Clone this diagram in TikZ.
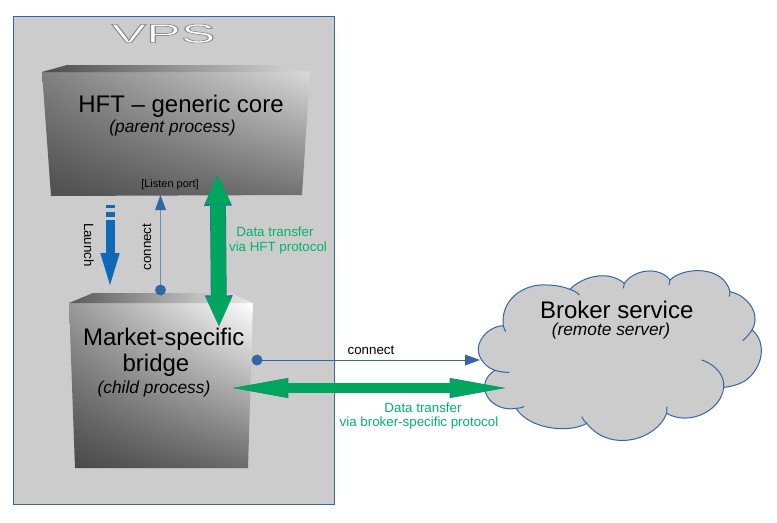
\documentclass[tikz,border=0pt]{standalone}
\usepackage{fontspec}
\setmainfont{Liberation Sans}
\usetikzlibrary{arrows.meta,shadings}
\definecolor{linkblue}{HTML}{3465A4}
\definecolor{launchblue}{HTML}{0F69B8}
\definecolor{dgreen}{HTML}{00A65D}
\definecolor{tgreen}{HTML}{00B46E}
\definecolor{panel}{HTML}{CCCCCC}
\newcommand{\fs}[1]{\fontsize{#1}{#1}\selectfont}
\tikzset{
  x=0.75pt,y=-0.75pt,
  txt/.style={inner sep=0pt,outer sep=0pt,text=black,align=center},
  title/.style={txt,font=\fs{18}},
  note/.style={txt,font=\fs{13}\itshape},
  small/.style={txt,font=\fs{10}},
  glabel/.style={small,text=tgreen},
  thin link/.style={draw=linkblue,line width=0.75pt,-{Triangle[length=11.25pt,width=8.25pt,line width=0pt,fill=linkblue]}},
  pdot/.style={circle,fill=linkblue,minimum size=8.2pt,inner sep=0pt,outer sep=0pt},
  launch/.style={draw=launchblue,line width=6.75pt,-{Triangle[length=24pt,width=14.6pt,line width=0pt,fill=launchblue]}},
  vbig under/.style={draw=linkblue,line width=11.9pt,{Triangle[length=23pt,width=21pt,line width=0pt,fill=linkblue]}-{Triangle[length=23pt,width=21pt,line width=0pt,fill=linkblue]}},
  vbig/.style={draw=dgreen,line width=11pt,{Triangle[length=22pt,width=20pt,line width=0pt,fill=dgreen]}-{Triangle[length=22pt,width=20pt,line width=0pt,fill=dgreen]}},
  hbig under/.style={draw=linkblue!70!dgreen,line width=8.1pt,{Triangle[length=41.5pt,width=15.1pt,line width=0pt,fill=linkblue!70!dgreen]}-{Triangle[length=41.5pt,width=15.1pt,line width=0pt,fill=linkblue!70!dgreen]}},
  hbig/.style={draw=dgreen,line width=7.5pt,{Triangle[length=40.5pt,width=14.3pt,line width=0pt,fill=dgreen]}-{Triangle[length=40.5pt,width=14.3pt,line width=0pt,fill=dgreen]}},
  cloudline/.style={draw=linkblue,line width=0.75pt},
}
\begin{document}
\begin{tikzpicture}
\useasboundingbox (0,0) rectangle (777,522);
\fill[white] (0,0) rectangle (777,522);
% VPS panel
\draw[fill=panel,draw=linkblue,line width=0.75pt] (13.5,16.5) rectangle (334.5,504);
\node[txt,font=\fs{19}] (vps) at (163.5,33.5) {\special{pdf:code q 0.55 G 1 g 0.45 w 2 Tr}\scalebox{2.05}[1.05]{VPS}\special{pdf:code Q}};
% HFT box
\shade[upper left=black!50,upper right=black!15,lower left=black!70,lower right=black!55]
  (42,72) -- (310,72) -- (302,195) -- (51,196) -- cycle;
\shade[left color=black!70,right color=black!15]
  (42,72) -- (67,65) -- (270,65) -- (310,72) -- cycle;
% Market box
\shade[upper left=black!40,upper right=white,lower left=black!72,lower right=black!58]
  (69,303) -- (253,303) -- (248,468) -- (75,468) -- cycle;
\shade[left color=black!65,right color=black!8]
  (69,303) -- (93,293) -- (230,293) -- (253,303) -- cycle;
% Cloud
\begin{scope}[shift={(440,250)},x=0.25pt,y=-0.25pt]
\path[fill=panel,cloudline]
  (190,228)
  .. controls (180,150) and (250,100) .. (320,105)
  .. controls (350,105) and (375,112) .. (390,118)
  .. controls (420,85) and (500,55) .. (553,100)
  .. controls (585,55) and (660,50) .. (690,90)
  .. controls (730,50) and (850,45) .. (870,125)
  .. controls (920,135) and (965,190) .. (936,240)
  .. controls (975,270) and (975,340) .. (925,385)
  .. controls (905,402) and (875,410) .. (851,412)
  .. controls (845,480) and (750,530) .. (680,490)
  .. controls (650,570) and (510,610) .. (440,520)
  .. controls (390,550) and (270,540) .. (228,475)
  .. controls (170,485) and (125,440) .. (135,400)
  .. controls (137,385) and (150,370) .. (165,361)
  .. controls (130,350) and (105,310) .. (118,280)
  .. controls (130,245) and (170,225) .. (190,228)
  -- cycle;
\draw[cloudline] (390,118) .. controls (402,122) and (412,128) .. (418,135);
\draw[cloudline] (553,100) -- (550,115);
\draw[cloudline] (690,90) -- (687,105);
\draw[cloudline] (870,125) -- (868,140);
\draw[cloudline] (936,240) .. controls (928,252) and (918,264) .. (908,272);
\draw[cloudline] (785,330) .. controls (830,345) and (855,380) .. (851,412);
\draw[cloudline] (680,490) -- (681,470);
\draw[cloudline] (440,520) .. controls (434,514) and (428,508) .. (425,500);
\draw[cloudline] (228,475) .. controls (238,475) and (245,473) .. (252,470);
\draw[cloudline] (165,361) .. controls (180,366) and (195,367) .. (207,367);
\draw[cloudline] (190,228) .. controls (191,233) and (195,240) .. (197,245);
\end{scope}
% connection end points
\coordinate (launchA) at (110,220);
\coordinate (launchB) at (110,285);
\coordinate (dashA) at (110,205);
\coordinate (dashB) at (110,218);
\coordinate (tipTop) at (217.7,175);
\coordinate (tipBot) at (219,326);
\coordinate (tipL) at (233,388);
\coordinate (tipR) at (505,388);
\coordinate (port) at (160.5,195);
\coordinate (cloudin) at (480,360);
\node[pdot] (dotA) at (160.5,290) {};
\node[pdot] (dotB) at (257,360) {};
% launch arrow
\draw[launch] (launchA) -- (launchB);
\draw[draw=launchblue,line width=6.75pt,dash pattern=on 2.6pt off 2.6pt on 3.8pt off 3pt] (dashA) -- (dashB);
% connect arrows
\draw[thin link,draw=linkblue!75!white] (dotA) -- (port);
\draw[thin link] (dotB) -- (cloudin);
% green double arrows
\draw[vbig under] (tipTop) -- (tipBot);
\draw[vbig] (tipTop) -- (tipBot);
\draw[hbig under] (tipL) -- (tipR);
\draw[hbig] (tipL) -- (tipR);
% text
\node[title] (hft) at (181,106) {HFT – generic core};
\node[note] (hftn) at (172.5,128) {(parent process)};
\node[txt,font=\fs{8.25}] (listen) at (170,185) {[Listen port]};
\node[title] (mkt) at (163.7,339) {Market-specific};
\node[title] (brg) at (156,365) {bridge};
\node[note] (mktn) at (154,389) {(child process)};
\node[title] (brk) at (616.7,309.5) {Broker service};
\node[note] (brkn) at (611,331) {(remote server)};
\node[small,rotate=-90] (lau) at (89,245) {Launch};
\node[small,rotate=90] (con) at (147,247) {connect};
\node[small] (con2) at (371,350.5) {connect};
\node[glabel] (d1) at (275,231.5) {Data transfer};
\node[glabel] (d2) at (278,248) {via HFT protocol};
\node[glabel] (d3) at (423,407.5) {Data transfer};
\node[glabel] (d4) at (419,423) {via broker-specific protocol};
\end{tikzpicture}
\end{document}
